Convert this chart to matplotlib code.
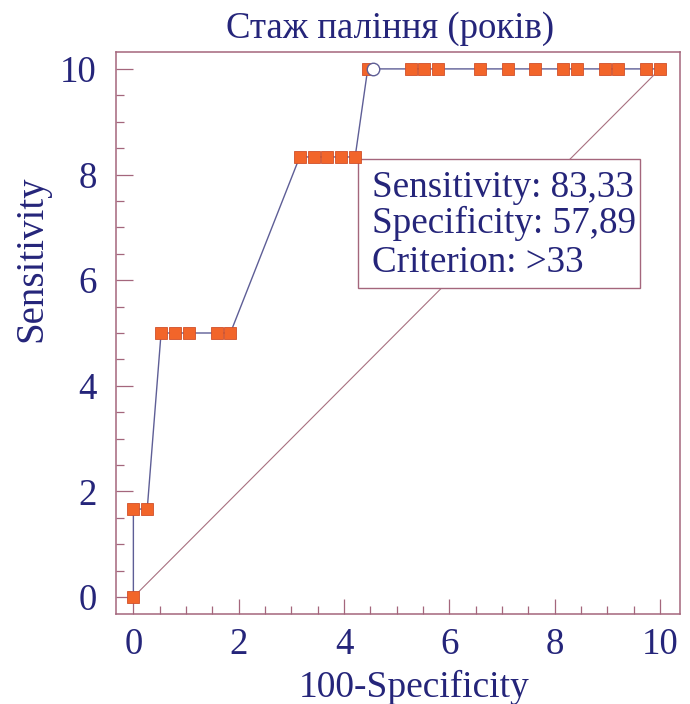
import matplotlib.pyplot as plt
from matplotlib.patches import Rectangle
from matplotlib.ticker import MultipleLocator

# ROC points (axis units as printed on the chart)
fpr = [0.0, 0.0, 0.263, 0.526, 0.789, 1.053, 1.579, 1.842,
       3.158, 3.421, 3.684, 3.947, 4.211, 4.45,
       5.263, 5.526, 5.789, 6.579, 7.105, 7.632,
       8.158, 8.421, 8.947, 9.211, 9.737, 10.0]
tpr = [0.0, 1.667, 1.667, 5.0, 5.0, 5.0, 5.0, 5.0,
       8.333, 8.333, 8.333, 8.333, 8.333, 10.0,
       10.0, 10.0, 10.0, 10.0, 10.0, 10.0,
       10.0, 10.0, 10.0, 10.0, 10.0, 10.0]
crit_point = (4.55, 10.0)
diag_x = [0, 10]
diag_y = [0, 10]

title = "Стаж паління (років)"
x_label = "100-Specificity"
y_label = "Sensitivity"
box_lines = ["Sensitivity: 83,33", "Specificity: 57,89", "Criterion: >33"]

NAVY = "#25257a"
FRAME = "#a4667c"
LINE = "#5e5e96"
ORANGE = "#f2652a"

plt.rcParams["font.family"] = ["Liberation Serif", "DejaVu Serif"]

fig = plt.figure(figsize=(6.9, 7.04), dpi=100)
ax = fig.add_axes([116 / 690, 90 / 704, 564 / 690, 562 / 704])

ax.plot(diag_x, diag_y, color="#a87080", lw=0.8, zorder=1)
ax.plot(fpr, tpr, color=LINE, lw=1.0, zorder=3)
ax.plot(fpr, tpr, ls="none", marker="s", ms=8.6, mfc=ORANGE,
        mec="#d0502a", mew=0.6, zorder=4)
ax.plot(*crit_point, ls="none", marker="o", ms=9, mfc="white",
        mec=LINE, mew=1.0, zorder=5)

ax.set_xlim(-0.33, 10.38)
ax.set_ylim(-0.32, 10.32)

ax.xaxis.set_major_locator(MultipleLocator(2))
ax.xaxis.set_minor_locator(MultipleLocator(0.5))
ax.yaxis.set_major_locator(MultipleLocator(2))
ax.yaxis.set_minor_locator(MultipleLocator(0.5))

for s in ax.spines.values():
    s.set_color(FRAME)
    s.set_linewidth(1.1)

ax.tick_params(which="both", direction="in", color=FRAME, width=0.9,
               labelcolor=NAVY, labelsize=26.5, top=False, right=False)
ax.tick_params(axis="y", which="major", length=12, pad=14)
ax.tick_params(axis="y", which="minor", length=6)
ax.tick_params(axis="x", which="major", length=11, pad=10)
ax.tick_params(axis="x", which="minor", length=6)

ax.set_title(title, color=NAVY, fontsize=26.5, pad=10, x=0.486)
ax.set_xlabel(x_label, color=NAVY, fontsize=27)
ax.xaxis.label.set_va("baseline")
ax.xaxis.set_label_coords(0.528, (614 - 697) / 562)
ax.set_ylabel(y_label, color=NAVY, fontsize=28)
ax.yaxis.set_label_coords(-0.117, 0.632)

box = Rectangle((0.429, 0.580), 0.5, 0.2296, transform=ax.transAxes,
                facecolor="white", edgecolor=FRAME, lw=1.0, zorder=2)
ax.add_patch(box)
for txt, yy in zip(box_lines, [0.742, 0.678, 0.6085]):
    ax.text(0.454, yy, txt, transform=ax.transAxes, color=NAVY,
            fontsize=26.7, va="baseline", ha="left", zorder=6)

fig.savefig("out.png", dpi=100)
